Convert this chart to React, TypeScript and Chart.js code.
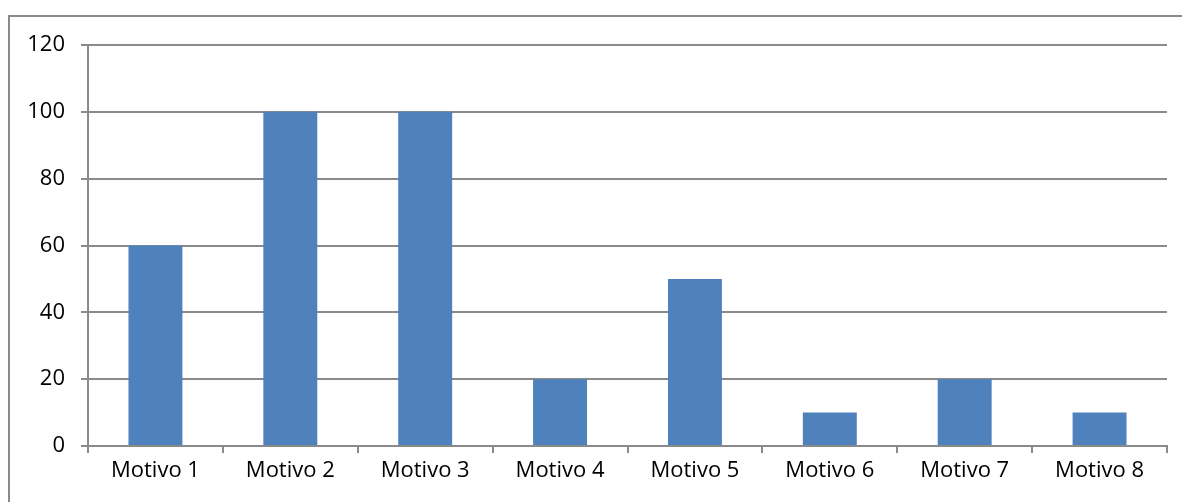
import React, { useEffect, useRef } from "react";
import { Chart, registerables } from "chart.js";

Chart.register(...registerables);

const categories = ["Motivo 1", "Motivo 2", "Motivo 3", "Motivo 4", "Motivo 5", "Motivo 6", "Motivo 7", "Motivo 8"];
const values = [60, 100, 100, 20, 50, 10, 20, 10];
const yMin = 0;
const yMax = 120;
const yStep = 20;

const FONT = "'Open Sans', Lato, sans-serif";
const GRID = "#8a8a8a";

const framePlugin = {
  id: "frame",
  beforeDraw(chart: any) {
    const ctx = chart.ctx;
    ctx.save();
    ctx.strokeStyle = GRID;
    ctx.lineWidth = 2;
    ctx.beginPath();
    ctx.moveTo(9, chart.height + 10);
    ctx.lineTo(9, 16);
    ctx.lineTo(chart.width + 10, 16);
    ctx.stroke();
    ctx.restore();
  },
};

export default function App() {
  const ref = useRef<HTMLCanvasElement | null>(null);

  useEffect(() => {
    if (!ref.current) return;
    const chart = new Chart(ref.current, {
      type: "bar",
      data: {
        labels: categories,
        datasets: [
          {
            data: values,
            backgroundColor: "#4F81BD",
            borderWidth: 0,
            barPercentage: 0.4,
            categoryPercentage: 1,
          },
        ],
      },
      plugins: [framePlugin],
      options: {
        responsive: false,
        animation: false,
        layout: { padding: { left: 0, top: 45, right: 15, bottom: 0 } },
        plugins: { legend: { display: false }, tooltip: { enabled: false } },
        scales: {
          x: {
            grid: { display: true, drawOnChartArea: false, drawTicks: true, tickLength: 7, color: GRID, lineWidth: 2, offset: true },
            border: { display: true, color: GRID, width: 2 },
            ticks: { color: "#000", font: { family: FONT, size: 22 }, padding: 5, maxRotation: 0 },
            afterFit: (s: any) => {
              s.height = 56;
            },
          },
          y: {
            min: yMin,
            max: yMax,
            grid: { color: GRID, lineWidth: 2, tickLength: 7 },
            border: { display: true, color: GRID, width: 2 },
            ticks: { stepSize: yStep, color: "#000", font: { family: FONT, size: 22 }, padding: 16 },
            afterFit: (s: any) => {
              s.width = 88;
            },
          },
        },
      },
    });
    return () => chart.destroy();
  }, []);

  return (
    <div style={{ position: "absolute", left: 0, top: 0, width: 1182, height: 502, overflow: "hidden", background: "#fff" }}>
      <canvas ref={ref} width={1182} height={502} style={{ position: "absolute", left: 0, top: 0 }} />
    </div>
  );
}
